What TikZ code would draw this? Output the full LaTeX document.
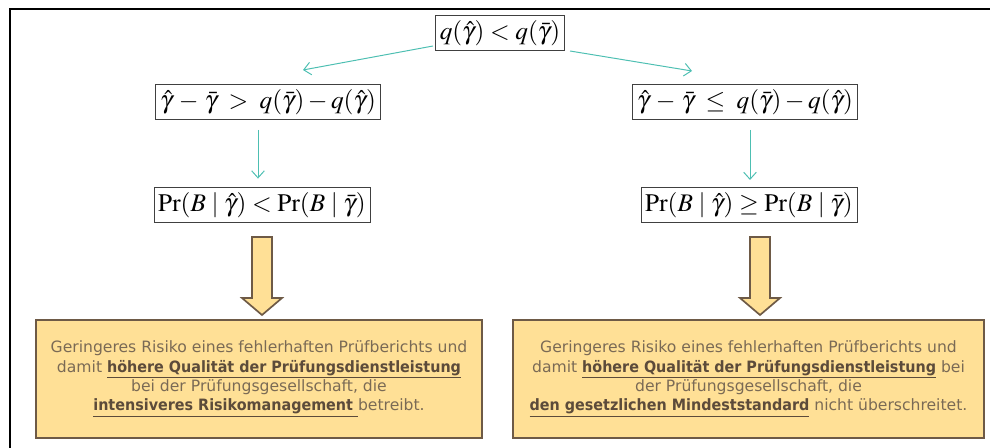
\documentclass[tikz,border=0pt]{standalone}
\usepackage{mathptmx}
\usepackage[no-math]{fontspec}
\setsansfont{DejaVu Sans}[BoldFeatures={FakeStretch=0.92}]
\usetikzlibrary{arrows.meta}

\definecolor{tealline}{HTML}{4DBFB2}
\definecolor{boxfill}{HTML}{FFE096}
\definecolor{boxdraw}{HTML}{6E5A46}
\definecolor{boxtext}{HTML}{7A6A55}
\definecolor{boxbold}{HTML}{5C4B3A}

\tikzset{
	mathbox/.style={draw=black!75, line width=0.6pt, fill=white, inner xsep=3pt, inner ysep=2pt, minimum height=25pt, font=\fontsize{18}{20}\selectfont},
	link/.style={draw=tealline, line width=0.7pt, -{Straight Barb[length=5pt,width=9pt]}},
	resultbox/.style={draw=boxdraw, fill=boxfill, line width=1.2pt, align=center, text=boxtext, minimum height=84pt, font=\sffamily\fontsize{11.1}{13.7}\selectfont},
	bigarrow/.style={draw=boxdraw, fill=boxfill, line width=1.2pt, line join=miter}
}
\newcommand{\hl}[1]{\textbf{\color{boxbold}\underline{#1}}}
\def\blockarrow(#1:#2:#3){\draw[bigarrow] ({#1-10},#2) -- ({#1+10},#2) -- ({#1+10},{#3-17}) -- ({#1+20},{#3-17}) -- (#1,#3) -- ({#1-20},{#3-17}) -- ({#1-10},{#3-17}) -- cycle;}

\begin{document}
\begin{tikzpicture}[x=0.25mm,y=-0.25mm]
		%%%%% START %%%%%
		\useasboundingbox (0,0) rectangle (990,448);
		
		\draw[line width=1.6pt] (10,448) -- (10,9) -- (990,9);
		
		\node[mathbox] (top) at (500,33) {$q(\hat{\gamma}) < q(\bar{\gamma})$};
		
		\node[mathbox] (l1) at (268,102) {$\hat{\gamma}\,-\,\bar{\gamma} \;>\; q(\bar{\gamma})-q(\hat{\gamma})$};
		\node[mathbox] (r1) at (745,102) {$\hat{\gamma}\,-\,\bar{\gamma} \;\leq\; q(\bar{\gamma})-q(\hat{\gamma})$};
		
		\node[mathbox] (l2) at (262,205) {$\Pr(B \mid \hat{\gamma}) < \Pr(B \mid \bar{\gamma})$};
		\node[mathbox] (r2) at (749,205) {$\Pr(B \mid \hat{\gamma}) \geq \Pr(B \mid \bar{\gamma})$};
		
		\coordinate (ls) at (433,46);
		\coordinate (le) at (303,70);
		\coordinate (rs) at (570,51);
		\coordinate (re) at (692,71);
		\draw[link] (ls) -- (le);
		\draw[link] (rs) -- (re);
		
		\draw[link, shorten <=7pt, shorten >=6pt] (l1.south -| 258,0) -- (l2.north -| 258,0);
		\draw[link, shorten <=7pt, shorten >=5pt] (r1.south -| 750,0) -- (r2.north -| 750,0);
		
		\blockarrow(262:237:315)
		\blockarrow(760:237:315)
		
		\node[resultbox, minimum width=317.5pt] (lres) at (259,379) {Geringeres Risiko eines fehlerhaften Prüfberichts und\\ damit \hl{höhere Qualität der Prüfungsdienstleistung}\\ bei der Prüfungsgesellschaft, die\\ \hl{intensiveres Risikomanagement\ }betreibt.};
		\node[resultbox, minimum width=335pt] (rres) at (748.5,379) {Geringeres Risiko eines fehlerhaften Prüfberichts und\\ damit \hl{höhere Qualität der Prüfungsdienstleistung} bei\\ der Prüfungsgesellschaft, die\\ \hl{den gesetzlichen Mindeststandard} nicht überschreitet.};
		
		%%%%% END %%%%%
	\end{tikzpicture}
\end{document}
